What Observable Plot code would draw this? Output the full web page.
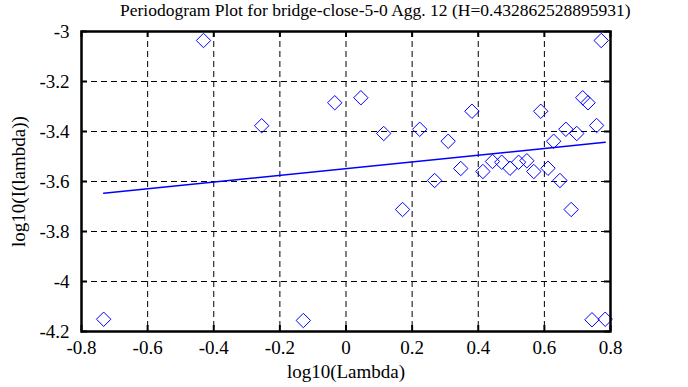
<!DOCTYPE html>
<html>
<head>
<meta charset="utf-8">
<script src="https://cdn.jsdelivr.net/npm/d3@7"></script>
<script src="https://cdn.jsdelivr.net/npm/@observablehq/plot@0.6"></script>
<style>
  body { margin: 0; background: #fff; }
  #wrap { position: relative; width: 688px; height: 387px; font-family: "Liberation Serif", "DejaVu Serif", serif; }
  #title { height: 20px; line-height: 20px; font-size: 17.5px; white-space: nowrap; padding-left: 120px; color: #000; }
  #chart svg text { font-family: "Liberation Serif", "DejaVu Serif", serif !important; font-size: 19px !important; font-variant: normal !important; }
</style>
</head>
<body>
<div id="wrap">
  <div id="title">Periodogram Plot for bridge-close-5-0 Agg. 12 (H=0.432862528895931)</div>
  <div id="chart"></div>
</div>
<script>
const xLabel = "log10(Lambda)";
const yLabel = "log10(I(lambda))";

const logLambda = [-0.733, -0.431, -0.255, -0.129, -0.034, 0.045, 0.114, 0.171, 0.223, 0.268,
  0.309, 0.347, 0.381, 0.414, 0.443, 0.471, 0.496, 0.522, 0.547, 0.568,
  0.589, 0.611, 0.628, 0.647, 0.665, 0.681, 0.698, 0.716, 0.732, 0.744,
  0.758, 0.772, 0.784];
const logI = [-4.151, -3.036, -3.377, -4.156, -3.285, -3.265, -3.408, -3.712, -3.391, -3.596,
  -3.439, -3.548, -3.319, -3.56, -3.52, -3.523, -3.547, -3.523, -3.517, -3.56,
  -3.319, -3.547, -3.439, -3.596, -3.391, -3.712, -3.408, -3.265, -3.285, -4.153,
  -3.376, -3.036, -4.151];

const fitX = [-0.733, 0.784];
const fitY = [-3.647, -3.443];

const xTicks = [-0.8, -0.6, -0.4, -0.2, 0, 0.2, 0.4, 0.6, 0.8];
const yTicks = [-3, -3.2, -3.4, -3.6, -3.8, -4, -4.2];

const points = logLambda.map((x, i) => ({x, y: logI[i]}));
const fit = fitX.map((x, i) => ({x, y: fitY[i]}));

const fmt = d => String(d);
const serif = "'Liberation Serif', 'DejaVu Serif', serif";

const chart = Plot.plot({
  width: 688,
  height: 367,
  marginTop: 11,
  marginBottom: 56,
  marginLeft: 81,
  marginRight: 78,
  style: {fontFamily: serif, fontSize: "19px", color: "#000", background: "#fff", overflow: "visible"},
  x: {domain: [-0.8, 0.8]},
  y: {domain: [-4.2, -3]},
  marks: [
    Plot.ruleX(xTicks.slice(1, -1), {x: d => d, stroke: "#000", strokeWidth: 1, strokeDasharray: "6,4"}),
    Plot.ruleY(yTicks.slice(1, -1), {y: d => d, stroke: "#000", strokeWidth: 1, strokeDasharray: "6,4"}),
    Plot.ruleX(xTicks, {x: d => d, insetTop: 294, stroke: "#000", strokeWidth: 2}),
    Plot.ruleX(xTicks, {x: d => d, insetBottom: 294, stroke: "#000", strokeWidth: 2}),
    Plot.ruleY(yTicks, {y: d => d, insetRight: 523, stroke: "#000", strokeWidth: 2}),
    Plot.ruleY(yTicks, {y: d => d, insetLeft: 523, stroke: "#000", strokeWidth: 2}),
    Plot.axisX(xTicks, {tickSize: 0, tickPadding: 9, tickFormat: fmt, fontFamily: serif, fontSize: 19, label: xLabel, labelAnchor: "center", labelOffset: 46, labelArrow: "none"}),
    Plot.axisY(yTicks, {tickSize: 0, tickPadding: 12, tickFormat: fmt, fontFamily: serif, fontSize: 19, label: yLabel, labelAnchor: "center", labelOffset: 70, labelArrow: "none"}),
    Plot.line(fit, {x: "x", y: "y", stroke: "#0000ff", strokeWidth: 1.5}),
    Plot.dot(points, {x: "x", y: "y", symbol: "diamond2", r: 6.5, stroke: "#0000ff", strokeWidth: 1, fill: "none"}),
    Plot.frame({stroke: "#000", strokeWidth: 2.5})
  ]
});
document.getElementById("chart").appendChild(chart);
</script>
</body>
</html>
